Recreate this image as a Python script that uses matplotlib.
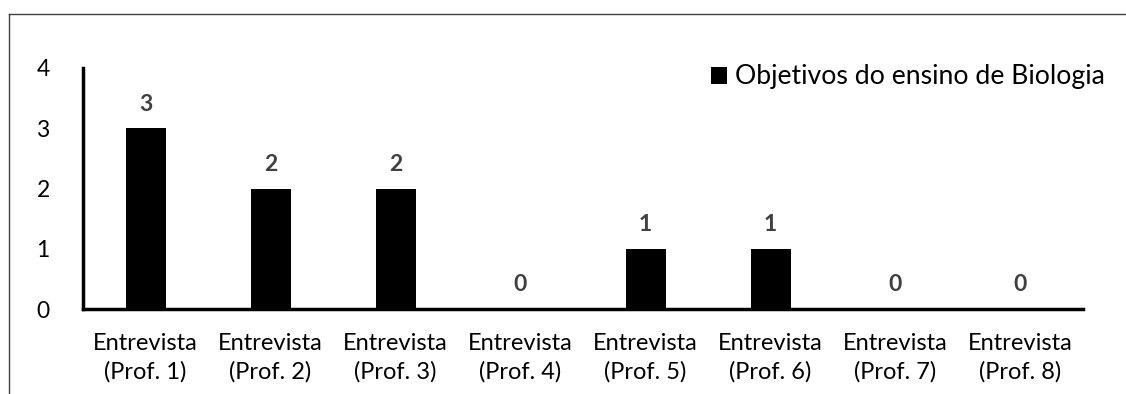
import matplotlib.pyplot as plt
from matplotlib.lines import Line2D
import numpy as np

plt.rcParams['font.family'] = ['Lato', 'DejaVu Sans']

categorias = ['Entrevista\n(Prof. %d)' % i for i in range(1, 9)]
valores = [3, 2, 2, 0, 1, 1, 0, 0]
serie = 'Objetivos do ensino de Biologia'

W, H = 1126, 394
fig = plt.figure(figsize=(W / 100, H / 100), dpi=100)
ax = fig.add_axes([83 / W, (H - 309) / H, 1000 / W, 241 / H])

x = np.arange(len(valores))
barras = ax.bar(x, valores, width=0.32, color='black', label=serie)

for xi, v in zip(x, valores):
    ax.text(xi, v + 0.4, str(v), ha='center', va='center',
            fontsize=16.5, fontweight='bold', color='#404040')

ax.set_xlim(-0.5, len(valores) - 0.5)
ax.set_ylim(0, 4)
ax.set_yticks(range(5))
ax.set_xticks(x)
ax.set_xticklabels(categorias, fontsize=17, linespacing=1.45)
ax.tick_params(axis='y', length=0, labelsize=16.5, colors='black', pad=24)
ax.tick_params(axis='x', length=0, colors='black', pad=17)

for lado in ['top', 'right']:
    ax.spines[lado].set_visible(False)
for lado in ['left', 'bottom']:
    ax.spines[lado].set_linewidth(2.5)
    ax.spines[lado].set_color('black')

ax.legend(loc='upper right', bbox_to_anchor=(1.035, 1.07), frameon=False,
          fontsize=19.2, handlelength=0.6, handleheight=0.6, handletextpad=0.3,
          borderpad=0)

# moldura do gráfico (cortada à direita e embaixo)
fig.add_artist(Line2D([9 / W, 1], [1 - 14 / H, 1 - 14 / H], color='#404040', lw=1))
fig.add_artist(Line2D([9 / W, 9 / W], [0, 1 - 14 / H], color='#404040', lw=1))

fig.savefig('out.png', dpi=100)
